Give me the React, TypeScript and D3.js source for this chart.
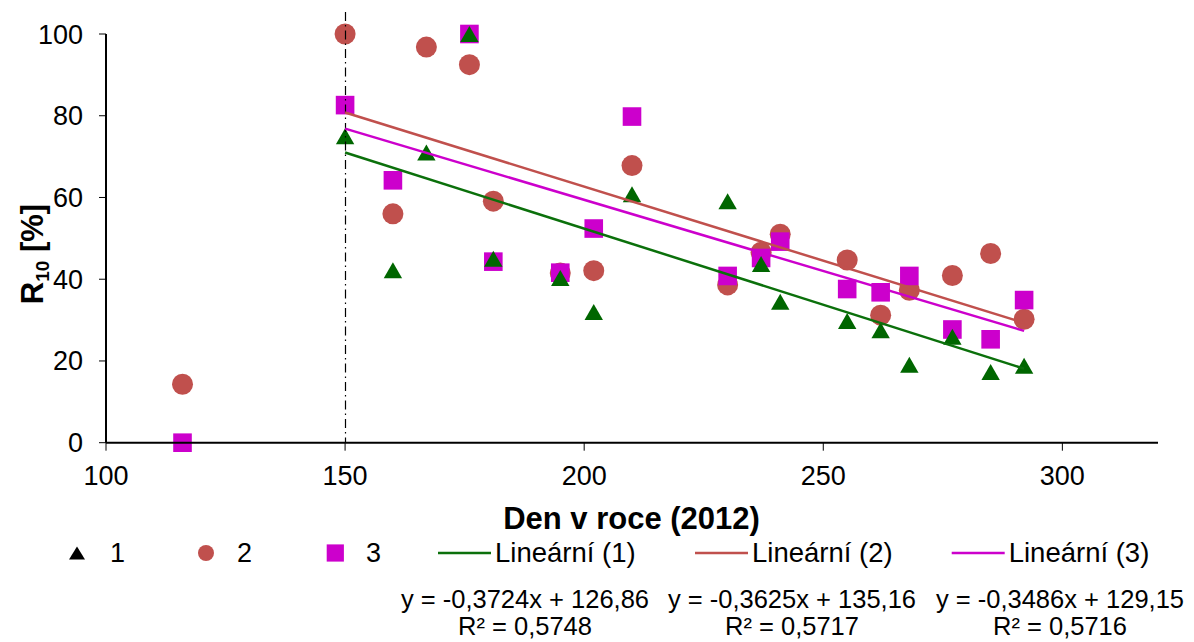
import React from "react";
import * as d3 from "d3";

// ---- data ----
const days1 = [150, 160, 167, 176, 181, 195, 202, 210, 230, 237, 241, 255, 262, 268, 277, 285, 292];
const r1 = [75, 42.2, 71, 100, 45, 40.3, 32, 60.8, 59.1, 43.7, 34.5, 29.8, 27.5, 19.1, 25.9, 17.3, 18.8];

const days2 = [116, 150, 160, 167, 176, 181, 195, 202, 210, 230, 237, 241, 255, 262, 268, 277, 285, 292];
const r2 = [14.3, 100, 56, 96.8, 92.5, 59.1, 41.5, 42.1, 67.8, 38.6, 46.6, 51, 44.7, 31.2, 37.3, 40.9, 46.3, 30.2];

const days3 = [116, 150, 160, 176, 181, 195, 202, 210, 230, 237, 241, 255, 262, 268, 277, 285, 292];
const r3 = [0, 82.6, 64.2, 100, 44.3, 41.6, 52.4, 79.8, 40.8, 45.2, 49.2, 37.6, 36.8, 40.8, 27.7, 25.3, 34.9];

const seriesNames = ["1", "2", "3"];
const trendNames = ["Lineární (1)", "Lineární (2)", "Lineární (3)"];
const trendSlopes = [-0.3724, -0.3625, -0.3486];
const trendIntercepts = [126.86, 135.16, 129.15];
const trendR2 = [0.5748, 0.5717, 0.5716];
const trendRange = [150, 292];
const markerLine = 150;

const xTicks = [100, 150, 200, 250, 300];
const yTicks = [0, 20, 40, 60, 80, 100];
const xDomain = [100, 320];
const yDomain = [0, 100];

const xTitle = "Den v roce (2012)";

// ---- styles ----
const FONT = "'Liberation Sans', Arial, sans-serif";
const C1 = "#006600";
const C2 = "#C0504D";
const C3 = "#CC00CC";
const L1 = "#0b700b";

const fmt = (v: number, digits: number) => v.toFixed(digits).replace(".", ",");

function triPath(cx: number, cy: number, hw: number, h: number) {
  return `M${cx},${cy - h / 2}L${cx + hw},${cy + h / 2}L${cx - hw},${cy + h / 2}Z`;
}

export default function App() {
  const x = d3.scaleLinear().domain(xDomain).range([106, 1158]);
  const y = d3.scaleLinear().domain(yDomain).range([442.7, 34]);

  const pts1 = days1.map((d, i) => ({ d, v: r1[i] }));
  const pts2 = days2.map((d, i) => ({ d, v: r2[i] }));
  const pts3 = days3.map((d, i) => ({ d, v: r3[i] }));

  const trendColors = [L1, C2, C3];
  const trends = trendSlopes.map((s, i) => {
    const lg = d3
      .line<number>()
      .x((d) => x(d))
      .y((d) => y(s * d + trendIntercepts[i]));
    return lg(trendRange) as string;
  });

  const eqCenters = [525, 792, 1060];

  // legend layout
  const legY = 553;
  const legTextY = 562;
  const vx = Math.round(x(markerLine)) + 0.5;

  return (
    <svg
      width={1194}
      height={642}
      style={{ position: "fixed", left: 0, top: 0, background: "#fff" }}
      fontFamily={FONT}
    >
      <rect x={0} y={0} width={1194} height={642} fill="#fff" />

      {/* markers: circles, squares, then triangles */}
      {pts2.map((p, i) => (
        <circle key={"c" + i} cx={x(p.d)} cy={y(p.v)} r={10.5} fill={C2} />
      ))}
      {pts3.map((p, i) => (
        <rect key={"s" + i} x={x(p.d) - 9.3} y={y(p.v) - 9.3} width={18.6} height={18.6} fill={C3} />
      ))}
      {pts1.map((p, i) => (
        <path key={"t" + i} d={triPath(x(p.d), y(p.v), 9.2, 16)} fill={C1} />
      ))}

      {/* vertical dash-dot line at day 150 */}
      <line
        x1={vx}
        x2={vx}
        y1={12}
        y2={y(0)}
        stroke="#000"
        strokeWidth={1.2}
        strokeDasharray="9,4,1.5,4"
      />

      {/* trend lines */}
      {trends.map((d, i) => (
        <path key={"tr" + i} d={d} stroke={trendColors[i]} strokeWidth={2.5} fill="none" />
      ))}

      {/* axes */}
      <line x1={x(xDomain[0])} x2={x(xDomain[1])} y1={y(0)} y2={y(0)} stroke="#000" strokeWidth={2} />
      <line x1={x(xDomain[0])} x2={x(xDomain[0])} y1={y(100)} y2={y(0)} stroke="#000" strokeWidth={2} />
      {xTicks.map((t) => (
        <g key={"xt" + t}>
          <line x1={x(t)} x2={x(t)} y1={y(0)} y2={y(0) + 8} stroke="#000" strokeWidth={1} />
          <text x={x(t)} y={485} textAnchor="middle" fontSize={27} fill="#000">
            {t}
          </text>
        </g>
      ))}
      {yTicks.map((t) => (
        <g key={"yt" + t}>
          <line x1={x(xDomain[0]) - 7} x2={x(xDomain[0])} y1={y(t)} y2={y(t)} stroke="#000" strokeWidth={1} />
          <text x={83} y={y(t) + 9.5} textAnchor="end" fontSize={27} fill="#000">
            {t}
          </text>
        </g>
      ))}

      {/* axis titles */}
      <text x={631.5} y={529} textAnchor="middle" fontSize={31} fontWeight="bold" fill="#000">
        {xTitle}
      </text>
      <text
        transform="translate(43,254) rotate(-90)"
        textAnchor="middle"
        fontSize={31}
        fontWeight="bold"
        fill="#000"
      >
        R
        <tspan fontSize={19} dy={6}>
          10
        </tspan>
        <tspan dy={-6}> [%]</tspan>
      </text>

      {/* legend */}
      <path d={triPath(77, legY, 8, 13)} fill="#000" />
      <text x={110} y={legTextY} fontSize={27} fill="#000">
        {seriesNames[0]}
      </text>
      <circle cx={206} cy={legY} r={8} fill={C2} />
      <text x={237} y={legTextY} fontSize={27} fill="#000">
        {seriesNames[1]}
      </text>
      <rect x={335.3 - 8.6} y={legY - 8.6} width={17.2} height={17.2} fill={C3} />
      <text x={366} y={legTextY} fontSize={27} fill="#000">
        {seriesNames[2]}
      </text>

      {[438, 695, 951.7].map((lx, i) => (
        <g key={"lg" + i}>
          <line x1={lx} x2={lx + 53} y1={legY} y2={legY} stroke={trendColors[i]} strokeWidth={2.5} />
          <text x={lx + 57} y={legTextY} fontSize={27.5} fill="#000">
            {trendNames[i]}
          </text>
        </g>
      ))}

      {/* trendline equations */}
      {trendSlopes.map((s, i) => (
        <g key={"eq" + i}>
          <text x={eqCenters[i]} y={608} textAnchor="middle" fontSize={25.5} fill="#000">
            {`y = ${fmt(s, 4)}x + ${fmt(trendIntercepts[i], 2)}`}
          </text>
          <text x={eqCenters[i]} y={635} textAnchor="middle" fontSize={25.5} fill="#000">
            {`R² = ${fmt(trendR2[i], 4)}`}
          </text>
        </g>
      ))}
    </svg>
  );
}
